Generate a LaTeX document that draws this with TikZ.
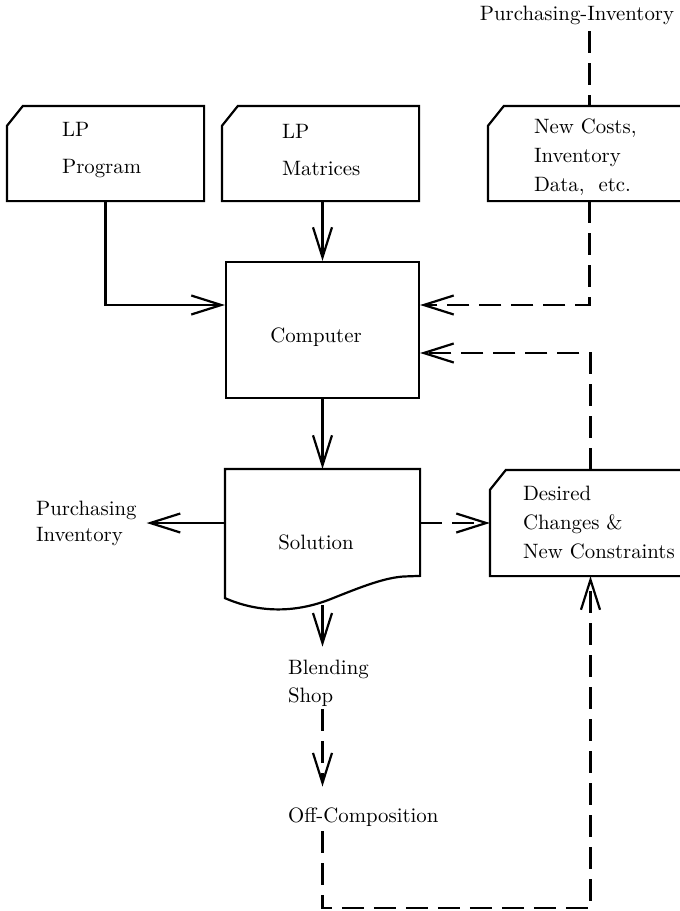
\documentclass[tikz,border=0pt]{standalone}
\usetikzlibrary{arrows.meta,calc}
\begin{document}
\begin{tikzpicture}[x=0.5pt,y=-0.5pt,
  line width=1.1pt, line join=miter,
  font=\fontsize{10.4}{14.5}\selectfont,
  flow/.style={-{Straight Barb[length=15pt,width=9.5pt,line width=1.1pt]}},
  dflow/.style={flow, dash pattern=on 11pt off 5pt},
  dline/.style={dash pattern=on 11pt off 5pt},
  frame/.style={rectangle, draw=none, inner sep=0pt},
  boxed/.style={rectangle, draw, inner sep=0pt},
  txt/.style={inner sep=0pt, align=left, anchor=west},
  lbl/.style={inner sep=0pt, align=left, anchor=west},
]
\clip (0,0) rectangle (680,911);

% --- card frames (top-left corner cut) ---
\node[frame, minimum width=97.5pt, minimum height=46.5pt] (prog) at (105.5,153.5) {};
\node[frame, minimum width=97.5pt, minimum height=46.5pt] (mat)  at (320.5,153.5) {};
\node[frame, minimum width=100.5pt, minimum height=46.5pt] (nc)  at (589.5,153.5) {};
\node[frame, minimum width=99.5pt, minimum height=52pt] (des)    at (590.5,523) {};
\foreach \c in {prog,mat,nc,des}{
  \draw ([yshift=-10pt]\c.north west) -- ([xshift=8pt]\c.north west)
        -- (\c.north east) -- (\c.south east) -- (\c.south west) -- cycle;
}

% --- processing box and output document ---
\node[boxed, minimum width=96.5pt, minimum height=68pt] (comp) at (322.5,330) {};
\node[frame, minimum width=96.5pt, minimum height=63.5pt] (sol) at (322.5,533.5) {};
\draw (sol.south west) -- (sol.north west) -- (sol.north east) -- ++(0,107)
      -- ++(-14,0.5) .. controls +(-20,0.5) and +(30,-12) .. ++(-75,22.5)
      .. controls +(-30,12) and +(39,17) .. (sol.south west) -- cycle;

% --- texts ---
\node[txt] (progtxt) at (61,150) {LP\\[4pt]Program};
\node[txt] (mattxt)  at (281,150) {LP\\[4pt]Matrices};
\node[txt] (nctxt)   at (533,157) {New Costs,\\Inventory\\Data,\ \ etc.};
\node[txt] (destxt)  at (522,523) {Desired\\Changes \&\\New Constraints};
\node[inner sep=0pt] (comptxt) at (316,337) {Computer};
\node[inner sep=0pt] (soltxt)  at (316,542) {Solution};
\node[lbl] (pl)    at (35,523) {Purchasing\\[-1.5pt]Inventory};
\node[inner sep=0pt] (pitop) at (577,15) {Purchasing-Inventory};
\node[lbl] (bl)    at (287,683) {Blending\\[-0.5pt]Shop};
\node[lbl] (oc)    at (287,817) {Off-Composition};

% --- connection points ---
\coordinate (cin1)   at ($(comp.west)+(0,-25)$);
\coordinate (cin2)   at ($(comp.east)+(0,-25)$);
\coordinate (cin3)   at ($(comp.east)+(0,23)$);
\coordinate (solbot) at ($(sol.south)+(0,7)$);
\coordinate (loop)   at (0,908);

% --- solid flow ---
\draw[flow] (prog.south) |- (cin1);
\draw[flow] (comp.north |- mat.south) -- (comp.north);
\draw[flow] (comp.south) -- (sol.north);
\draw[flow] (sol.west |- des.west) -- ([xshift=4.5pt]pl.east |- des.west);
\draw[flow] (solbot) -- ([yshift=6pt]bl.north -| solbot);

% --- dashed flow ---
\draw[dline] ([yshift=-3pt]pitop.south -| nc.north) -- (nc.north);
\draw[dflow] (nc.south) |- (cin2);
\draw[dflow] (des.north) |- (cin3);
\draw[dflow] (sol.east |- des.west) -- (des.west);
\draw[dflow] ([yshift=-1pt]bl.south -| solbot) -- ([yshift=10pt]oc.north -| solbot);
\draw[dflow] ([yshift=-2pt]oc.south -| solbot) |- (loop -| des.south) -- (des.south);
\end{tikzpicture}
\end{document}
